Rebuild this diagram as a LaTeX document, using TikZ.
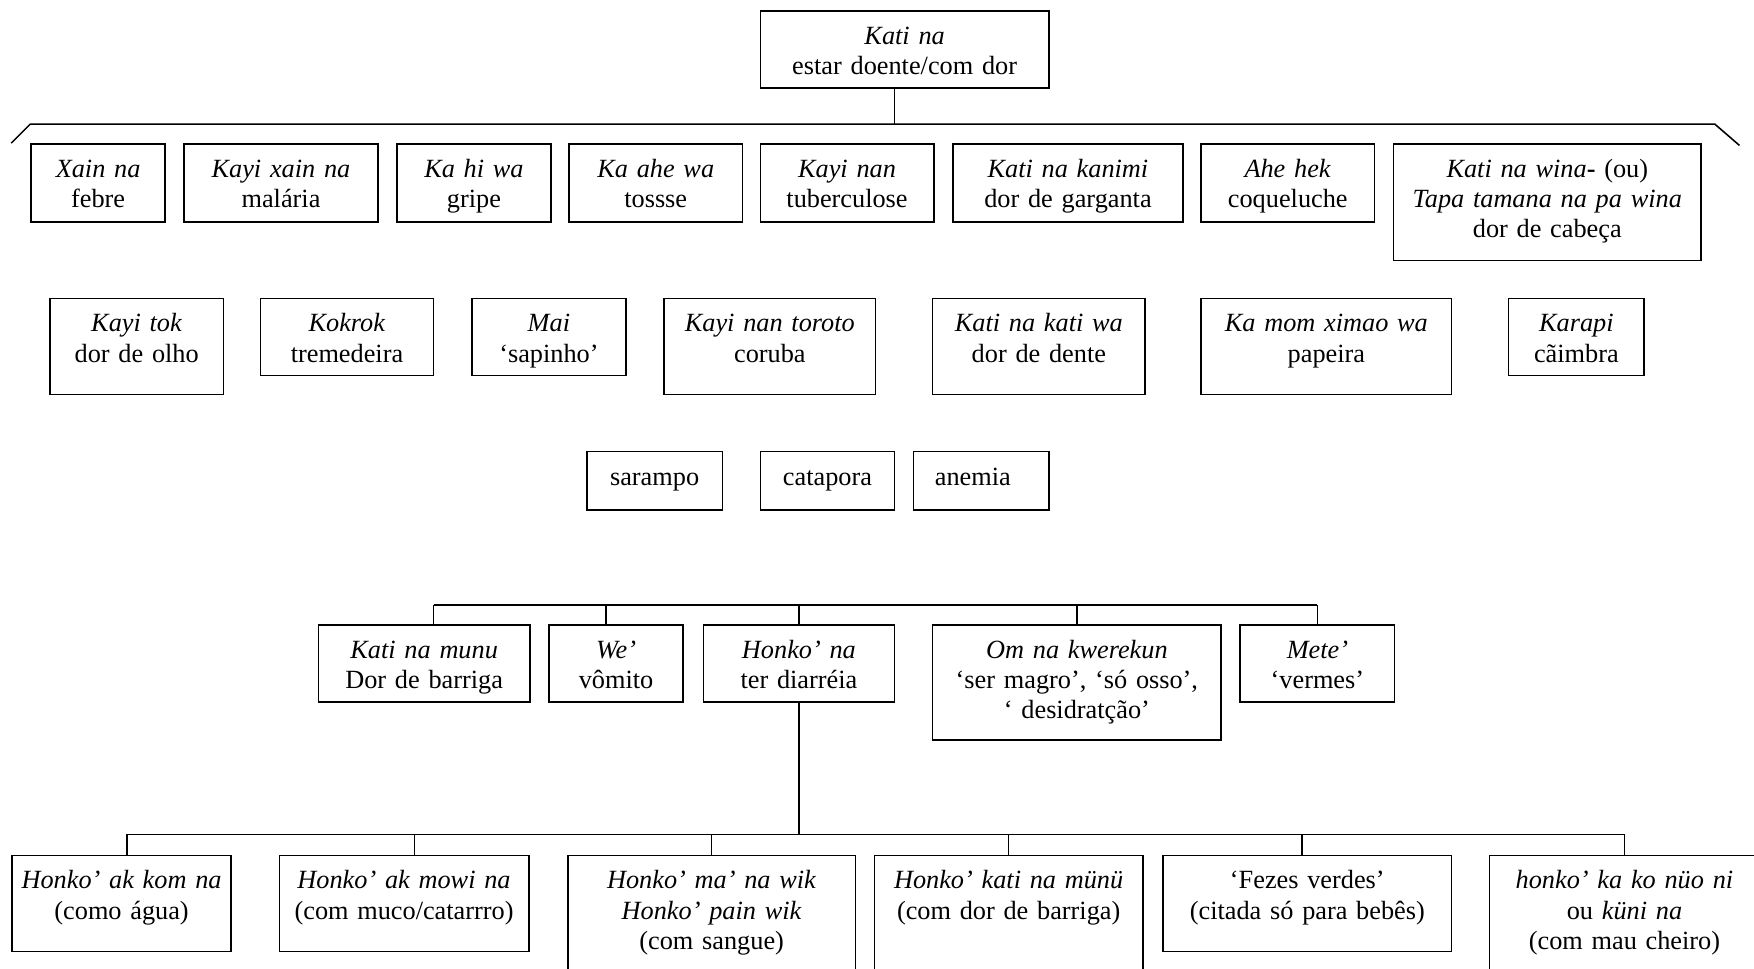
\documentclass[tikz,border=0pt]{standalone}
\usepackage{fontspec}
\setmainfont{Liberation Serif}
\tikzset{
  caixa/.style={draw, line width=1.4pt, inner sep=0pt, anchor=north west, align=center,
                text height=30pt, font=\fontsize{23.5}{27}\selectfont},
  liga/.style={line width=1.4pt},
}
\begin{document}
\begin{tikzpicture}[x=1pt, y=-1pt]
        \useasboundingbox (0,0) rectangle (1568,866);
        %topo
        \node[caixa, text width=258pt, text depth=39pt] (kati) at (679,9) {\textit{Kati na}\\estar doente/com dor};
        %linha 1
        \node[caixa, text width=120pt, text depth=40pt] (febre) at (27,128) {\textit{Xain na}\\febre};
        \node[caixa, text width=173pt, text depth=40pt] (malaria) at (164,128) {\textit{Kayi xain na}\\malária};
        \node[caixa, text width=138pt, text depth=40pt] (gripe) at (354,128) {\textit{Ka hi wa}\\gripe};
        \node[caixa, text width=155pt, text depth=40pt] (tosse) at (508,128) {\textit{Ka ahe wa}\\tossse};
        \node[caixa, text width=155pt, text depth=40pt] (tuberculose) at (679,128) {\textit{Kayi nan}\\tuberculose};
        \node[caixa, text width=206pt, text depth=40pt] (garganta) at (851,128) {\textit{Kati na kanimi}\\dor de garganta};
        \node[caixa, text width=155pt, text depth=40pt] (coqueluche) at (1073,128) {\textit{Ahe hek}\\coqueluche};
        \node[caixa, text width=275pt, text depth=74pt] (cabeca) at (1245,128) {\textit{Kati na wina}\textbf{-} (ou)\\\textit{Tapa tamana na pa wina}\\dor de cabeça};
        %linha 2
        \node[caixa, text width=155pt, text depth=56pt] (olho) at (44,266) {\textit{Kayi tok}\\dor de olho};
        \node[caixa, text width=155pt, text depth=39pt] (tremedeira) at (232,266) {\textit{Kokrok}\\tremedeira};
        \node[caixa, text width=138pt, text depth=39pt] (sapinho) at (421,266) {\textit{Mai}\\‘sapinho’};
        \node[caixa, text width=189pt, text depth=56pt] (coruba) at (593,266) {\textit{Kayi nan toroto}\\coruba};
        \node[caixa, text width=190pt, text depth=56pt] (dente) at (833,266) {\textit{Kati na kati wa}\\dor de dente};
        \node[caixa, text width=224pt, text depth=56pt] (papeira) at (1073,266) {\textit{Ka mom ximao wa}\\papeira};
        \node[caixa, text width=121pt, text depth=39pt] (caimbra) at (1348,266) {\textit{Karapi}\\cãimbra};
        %linha 3
        \node[caixa, text width=121pt, text depth=22pt] (sarampo) at (524,403) {sarampo};
        \node[caixa, text width=120pt, text depth=22pt] (catapora) at (679,403) {catapora};
        \node[caixa, text width=83pt, inner xsep=19pt, align=left, text depth=22pt] (anemia) at (816,403) {anemia};
        %diarreia e vizinhos
        \node[caixa, text width=189pt, text depth=39pt] (barriga) at (284,558) {\textit{Kati na munu}\\Dor de barriga};
        \node[caixa, text width=120pt, text depth=39pt] (vomito) at (490,558) {\textit{We’}\\vômito};
        \node[caixa, text width=171pt, text depth=39pt] (diarreia) at (628,558) {\textit{Honko’ na}\\ter diarréia};
        \node[caixa, text width=258pt, text depth=73pt] (magro) at (833,558) {\textit{Om na kwerekun}\\‘ser magro’, ‘só osso’,\\‘ desidratção’};
        \node[caixa, text width=138pt, text depth=39pt] (vermes) at (1108,558) {\textit{Mete’}\\‘vermes’};
        %tipos de honko
        \node[caixa, text width=196pt, text depth=56pt] (agua) at (10,764) {\textit{Honko’ ak kom na}\\(como água)};
        \node[caixa, text width=223pt, text depth=56pt] (muco) at (249,764) {\textit{Honko’ ak mowi na}\\(com muco/catarrro)};
        \node[caixa, text width=257pt, text depth=90pt] (sangue) at (507,764) {\textit{Honko’ ma’ na wik}\\\textit{Honko’ pain wik}\\(com sangue)};
        \node[caixa, text width=240pt, text depth=90pt] (dorbarriga) at (781,764) {\textit{Honko’ kati na münü}\\(com dor de barriga)};
        \node[caixa, text width=258pt, text depth=56pt] (fezes) at (1039,764) {‘Fezes verdes’\\(citada só para bebês)};
        \node[caixa, text width=241pt, text depth=90pt] (cheiro) at (1331,764) {\textit{honko’ ka ko nüo ni}\\ou \textit{küni na}\\(com mau cheiro)};

        %chave de cima
        \coordinate (c1) at (10,128);
        \coordinate (c2) at (27,111);
        \coordinate (c3) at (1533,111);
        \coordinate (c4) at (1555,130);
        \draw[liga] (c1) -- (c2) -- (c3) -- (c4);
        \draw[liga] ([xshift=-9pt]kati.south) -- ([xshift=-9pt]kati.south |- c2);

        %barra do meio
        \coordinate (b1) at (0,541);
        \draw[liga] ([xshift=8.5pt]barriga.north |- b1) -- (vermes.north |- b1);
        \draw[liga] ([xshift=8.5pt]barriga.north) -- ([xshift=8.5pt]barriga.north |- b1);
        \draw[liga] ([xshift=-9pt]vomito.north) -- ([xshift=-9pt]vomito.north |- b1);
        \foreach \n in {diarreia, magro, vermes}
            \draw[liga] (\n.north) -- (\n.north |- b1);

        %barra de baixo
        \coordinate (b2) at (0,746);
        \draw[liga] (diarreia.south) -- (diarreia.south |- b2);
        \draw[liga] ([xshift=5pt]agua.north |- b2) -- (cheiro.north |- b2);
        \draw[liga] ([xshift=5pt]agua.north) -- ([xshift=5pt]agua.north |- b2);
        \draw[liga] ([xshift=9.5pt]muco.north) -- ([xshift=9.5pt]muco.north |- b2);
        \draw[liga] ([xshift=-5pt]fezes.north) -- ([xshift=-5pt]fezes.north |- b2);
        \foreach \n in {sangue, dorbarriga, cheiro}
            \draw[liga] (\n.north) -- (\n.north |- b2);
\end{tikzpicture}
\end{document}
